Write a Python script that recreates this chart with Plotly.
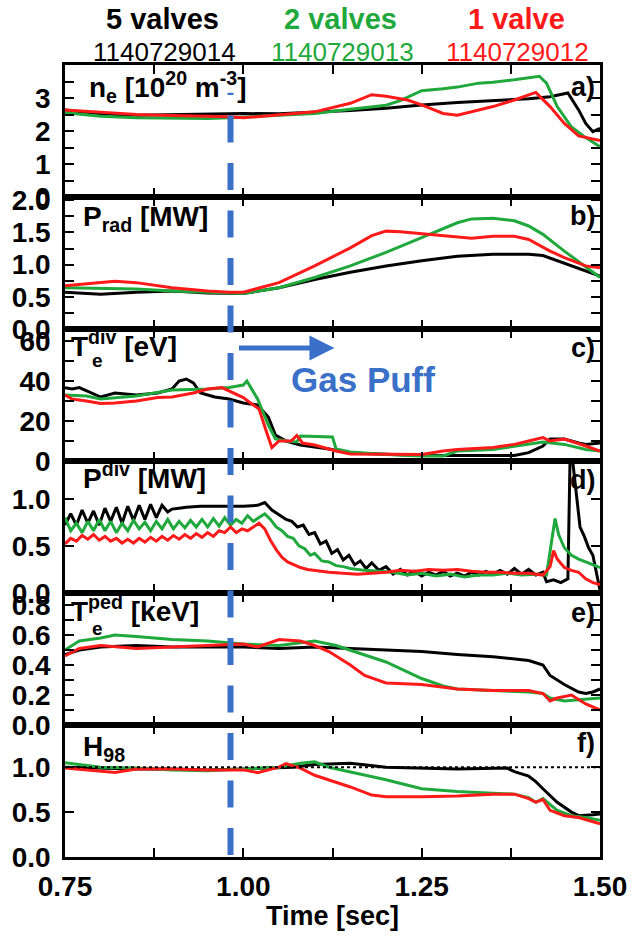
import plotly.graph_objects as go
from plotly.subplots import make_subplots

# ---------------- data ----------------
shots = ["1140729014", "1140729013", "1140729012"]
labels = ["5 valves", "2 valves", "1 valve"]
colors = ["#000000", "#1fa83c", "#ff1a1a"]

# a) n_e
ta_k = [0.75,0.78,0.80,0.85,0.90,0.95,1.00,1.05,1.10,1.15,1.20,1.25,1.30,1.35,1.40,1.43,1.455,1.47,1.48,1.49,1.50]
ne_k = [2.64,2.58,2.52,2.48,2.50,2.50,2.53,2.52,2.56,2.62,2.69,2.79,2.86,2.92,2.98,3.04,3.15,2.64,2.23,1.98,2.08]
ta_g = [0.75,0.80,0.85,0.90,0.95,1.00,1.05,1.10,1.15,1.20,1.22,1.25,1.28,1.30,1.33,1.35,1.38,1.40,1.415,1.425,1.44,1.46,1.48,1.50]
ne_g = [2.55,2.45,2.40,2.38,2.38,2.42,2.48,2.53,2.66,2.78,2.92,3.22,3.28,3.33,3.45,3.48,3.55,3.62,3.66,3.45,2.74,2.12,1.80,1.52]
ta_r = [0.75,0.80,0.85,0.90,0.95,0.98,1.00,1.05,1.10,1.15,1.18,1.20,1.23,1.25,1.28,1.30,1.32,1.35,1.38,1.41,1.43,1.45,1.47,1.50]
ne_r = [2.64,2.56,2.50,2.47,2.45,2.43,2.40,2.48,2.58,2.84,3.10,3.05,2.94,2.79,2.53,2.48,2.58,2.74,2.94,3.17,2.74,2.23,1.85,1.71]

# b) P_rad
tb_k = [0.75,0.80,0.85,0.90,0.95,1.00,1.05,1.10,1.15,1.20,1.25,1.30,1.35,1.40,1.42,1.45,1.50]
prad_k = [0.57,0.54,0.57,0.59,0.56,0.55,0.64,0.77,0.88,0.98,1.06,1.13,1.16,1.16,1.14,1.02,0.82]
tb_g = [0.75,0.80,0.85,0.90,0.95,1.00,1.05,1.10,1.15,1.20,1.25,1.30,1.32,1.35,1.38,1.40,1.42,1.45,1.50]
prad_g = [0.64,0.63,0.62,0.59,0.57,0.55,0.64,0.80,0.98,1.19,1.42,1.65,1.71,1.72,1.68,1.60,1.47,1.21,0.80]
tb_r = [0.75,0.80,0.82,0.85,0.90,0.95,0.98,1.00,1.05,1.10,1.15,1.18,1.20,1.22,1.25,1.28,1.30,1.32,1.35,1.38,1.40,1.43,1.45,1.48,1.50]
prad_r = [0.67,0.72,0.74,0.72,0.64,0.59,0.57,0.57,0.72,0.98,1.26,1.45,1.52,1.51,1.48,1.46,1.43,1.41,1.44,1.44,1.39,1.21,1.11,0.98,0.95]

# c) T_e^div
tc_k = [0.75,0.76,0.77,0.78,0.80,0.82,0.85,0.88,0.90,0.91,0.92,0.93,0.94,0.96,0.98,1.00,1.02,1.035,1.045,1.06,1.08,1.10,1.12,1.15,1.20,1.25,1.30,1.35,1.38,1.40,1.42,1.43,1.45,1.47,1.48,1.50]
te_k = [36.7,36,36.7,35,32,34,33,34,36,40,41,39,34,32,31,29,28,22,13,10,8,7,6,4,3.3,2.8,2.8,2.8,2.8,4.2,7.5,11,11,9,8.3,9]
tc_g = [0.75,0.78,0.80,0.85,0.90,0.95,0.98,1.00,1.005,1.02,1.035,1.045,1.06,1.075,1.08,1.125,1.13,1.15,1.20,1.25,1.28,1.30,1.35,1.38,1.40,1.42,1.45,1.48,1.50]
te_g = [33,32.5,31,32.5,35.5,36,36.7,38,40,31,18,11,10,9.5,12.5,12,6,4.5,3.3,2.5,2.5,5,5.8,7.5,8.3,9.5,8.3,5.8,5]
tc_r = [0.75,0.76,0.78,0.80,0.82,0.85,0.88,0.90,0.93,0.95,0.97,0.98,1.00,1.01,1.022,1.033,1.04,1.05,1.067,1.075,1.083,1.10,1.13,1.15,1.20,1.25,1.28,1.30,1.35,1.38,1.40,1.42,1.43,1.45,1.48,1.50]
te_r = [33,31,30,28.7,29,30,31.7,32,34,36,36.7,35,31.7,29,26,14,6.7,10,10,12.8,9,8,5,3.5,3.3,3.3,5,5.8,6.7,8.3,10,11.7,10,11,7.5,5]

# d) P^div
td_k = [0.750,0.758,0.766,0.774,0.782,0.790,0.798,0.806,0.814,0.822,0.830,0.838,0.846,0.854,0.862,0.870,0.878,0.886,0.894,
        0.90,0.91,0.92,0.94,0.96,0.98,1.00,1.02,1.03,1.04,1.05,1.06,
        1.068,1.076,1.084,1.092,1.100,1.108,1.116,1.124,1.132,1.140,1.148,1.156,1.164,1.172,1.180,1.190,1.200,1.21,1.22,
        1.23,1.24,1.25,1.26,1.27,1.28,1.29,1.30,1.31,1.32,1.33,1.34,1.35,1.36,1.37,1.38,1.39,1.40,1.41,1.42,
        1.425,1.435,1.445,1.455,1.458,1.462,1.468,1.472,1.478,1.484,1.49,1.495,1.50]
pd_k = [0.72,0.84,0.72,0.88,0.74,0.87,0.72,0.90,0.76,0.91,0.74,0.92,0.77,0.93,0.78,0.94,0.80,0.93,0.86,
        0.89,0.90,0.91,0.92,0.92,0.92,0.92,0.93,0.96,0.88,0.83,0.78,
        0.76,0.70,0.72,0.62,0.64,0.52,0.55,0.42,0.46,0.35,0.40,0.30,0.34,0.26,0.32,0.24,0.28,0.20,0.25,
        0.19,0.23,0.18,0.22,0.19,0.23,0.18,0.21,0.18,0.22,0.19,0.23,0.20,0.24,0.20,0.26,0.20,0.25,0.19,0.22,
        0.12,0.14,0.11,0.15,1.42,1.38,1.00,0.70,0.60,0.48,0.40,0.20,0.03]
td_g = [0.750,0.758,0.766,0.774,0.782,0.790,0.798,0.806,0.814,0.822,0.830,0.838,0.846,0.854,0.862,0.870,0.878,0.886,0.894,0.902,
        0.910,0.918,0.926,0.934,0.942,0.950,0.958,0.966,0.974,0.982,0.990,0.998,1.006,1.014,1.022,1.030,1.038,1.046,1.054,1.062,
        1.070,1.078,1.086,1.094,1.10,1.11,1.12,1.13,1.14,1.15,1.17,1.19,1.21,1.23,1.25,1.27,1.29,1.31,1.33,1.35,1.37,1.39,1.41,
        1.425,1.432,1.437,1.442,1.45,1.46,1.47,1.48,1.49,1.50]
pd_g = [0.80,0.66,0.74,0.64,0.76,0.66,0.78,0.66,0.76,0.64,0.74,0.66,0.77,0.68,0.75,0.66,0.76,0.68,0.78,0.68,
        0.76,0.69,0.77,0.70,0.78,0.70,0.79,0.71,0.80,0.72,0.78,0.74,0.82,0.76,0.80,0.84,0.78,0.70,0.66,0.60,
        0.58,0.50,0.47,0.40,0.42,0.34,0.33,0.29,0.28,0.26,0.24,0.23,0.22,0.19,0.21,0.18,0.20,0.17,0.19,0.19,0.21,0.19,0.20,
        0.19,0.55,0.79,0.62,0.48,0.40,0.36,0.33,0.30,0.27]
td_r = [0.750,0.758,0.766,0.774,0.782,0.790,0.798,0.806,0.814,0.822,0.830,0.838,0.846,0.854,0.862,0.870,0.878,0.886,0.894,0.902,
        0.910,0.918,0.926,0.934,0.942,0.950,0.958,0.966,0.974,0.982,0.990,0.998,1.006,1.014,1.022,1.030,1.038,1.046,1.054,1.062,
        1.07,1.08,1.09,1.10,1.12,1.14,1.16,1.18,1.20,1.22,1.24,1.26,1.28,1.30,1.32,1.34,1.36,1.38,1.40,1.42,
        1.43,1.435,1.44,1.45,1.46,1.47,1.48,1.49,1.50]
pd_r = [0.52,0.58,0.55,0.61,0.57,0.62,0.56,0.60,0.55,0.58,0.53,0.57,0.53,0.58,0.54,0.59,0.55,0.60,0.56,0.61,
        0.57,0.62,0.58,0.63,0.59,0.64,0.60,0.66,0.64,0.70,0.64,0.68,0.66,0.70,0.74,0.68,0.56,0.46,0.38,0.33,
        0.30,0.27,0.25,0.24,0.22,0.21,0.20,0.21,0.22,0.24,0.23,0.25,0.24,0.25,0.23,0.22,0.22,0.21,0.21,0.19,
        0.28,0.45,0.36,0.27,0.24,0.22,0.15,0.11,0.09]

# e) T_e^ped
te_t_k = [0.75,0.77,0.80,0.85,0.90,0.95,1.00,1.05,1.10,1.15,1.20,1.25,1.30,1.35,1.40,1.42,1.43,1.45,1.47,1.48,1.49,1.50]
tped_k = [0.47,0.50,0.52,0.53,0.52,0.52,0.52,0.51,0.52,0.51,0.50,0.49,0.47,0.455,0.43,0.40,0.33,0.27,0.22,0.21,0.22,0.24]
te_t_g = [0.75,0.77,0.80,0.82,0.85,0.90,0.95,1.00,1.05,1.10,1.13,1.15,1.20,1.25,1.28,1.30,1.35,1.40,1.42,1.43,1.45,1.50]
tped_g = [0.50,0.56,0.58,0.60,0.59,0.57,0.56,0.54,0.53,0.56,0.53,0.50,0.42,0.31,0.26,0.24,0.23,0.22,0.21,0.18,0.16,0.18]
te_t_r = [0.75,0.77,0.80,0.85,0.90,0.95,1.00,1.02,1.05,1.08,1.10,1.12,1.15,1.17,1.20,1.25,1.30,1.35,1.40,1.42,1.43,1.44,1.46,1.48,1.50]
tped_r = [0.46,0.51,0.53,0.51,0.52,0.53,0.54,0.52,0.57,0.56,0.53,0.49,0.40,0.33,0.28,0.27,0.24,0.23,0.23,0.21,0.16,0.18,0.20,0.14,0.10]

# f) H98
tf_k = [0.75,0.80,0.85,0.90,0.95,1.00,1.05,1.07,1.10,1.15,1.20,1.25,1.30,1.37,1.38,1.40,1.41,1.42,1.44,1.46,1.47,1.49,1.50]
h98_k = [1.0,0.99,0.98,0.98,0.97,0.98,0.99,1.0,1.03,1.045,1.0,0.99,0.98,0.99,0.95,0.90,0.84,0.76,0.61,0.50,0.46,0.47,0.48]
tf_g = [0.75,0.80,0.85,0.90,0.95,1.00,1.05,1.08,1.10,1.12,1.15,1.20,1.25,1.30,1.35,1.38,1.40,1.41,1.42,1.44,1.46,1.48,1.50]
h98_g = [1.05,1.0,0.99,0.97,0.96,0.98,1.0,1.045,1.06,1.0,0.95,0.86,0.76,0.73,0.71,0.70,0.66,0.61,0.65,0.52,0.46,0.44,0.41]
tf_r = [0.75,0.80,0.82,0.85,0.90,0.95,1.00,1.02,1.05,1.06,1.08,1.10,1.15,1.18,1.20,1.25,1.30,1.35,1.38,1.40,1.41,1.42,1.43,1.45,1.47,1.50]
h98_r = [0.99,0.96,0.94,0.98,0.98,0.97,0.97,0.94,1.0,1.04,0.99,0.91,0.78,0.69,0.67,0.67,0.68,0.70,0.70,0.65,0.61,0.64,0.52,0.46,0.44,0.37]

panels = [
    [(ta_k, ne_k), (ta_g, ne_g), (ta_r, ne_r)],
    [(tb_k, prad_k), (tb_g, prad_g), (tb_r, prad_r)],
    [(tc_k, te_k), (tc_g, te_g), (tc_r, te_r)],
    [(td_k, pd_k), (td_g, pd_g), (td_r, pd_r)],
    [(te_t_k, tped_k), (te_t_g, tped_g), (te_t_r, tped_r)],
    [(tf_k, h98_k), (tf_g, h98_g), (tf_r, h98_r)],
]
y_ranges = [[0, 4.0], [0, 2.05], [0, 66], [0, 1.40], [0, 0.88], [0, 1.47]]
y_ticks = [[0, 1, 2, 3], [0, 0.5, 1.0, 1.5, 2.0], [0, 20, 40, 60], [0, 0.5, 1.0],
           [0, 0.2, 0.4, 0.6, 0.8], [0, 0.5, 1.0]]
y_ticktext = [["0", "1", "2", "3"], ["0.0", "0.5", "1.0", "1.5", "2.0"], ["0", "20", "40", "60"],
              ["0.0", "0.5", "1.0"], ["0.0", "0.2", "0.4", "0.6", "0.8"], ["0.0", "0.5", "1.0"]]
y_minor = [[0.5, 1.5, 2.5, 3.5], [0.25, 0.75, 1.25, 1.75], [10, 30, 50], [], [0.1, 0.3, 0.5, 0.7], []]
x_ticks = [0.75, 1.0, 1.25, 1.5]
x_ticktext = ["0.75", "1.00", "1.25", "1.50"]
x_minor = [0.875, 1.125, 1.375]
puff_time = 0.982

# ---------------- figure ----------------
FONT = "Liberation Sans, Arial, sans-serif"
BLUE = "#3a70c8"
fig = make_subplots(rows=6, cols=1, shared_xaxes=True, vertical_spacing=0)

for i, panel in enumerate(panels):
    for j, (t, v) in enumerate(panel):
        fig.add_trace(go.Scatter(x=t, y=v, mode="lines", line=dict(color=colors[j], width=3),
                                 showlegend=False), row=i + 1, col=1)

tickfont = dict(family=FONT, size=28, color="black", weight="bold")
minor_style = dict(ticks="inside", ticklen=9, tickwidth=2, tickcolor="black", showgrid=False)
fig.update_xaxes(range=[0.75, 1.5], showline=True, mirror="ticks", linecolor="black", linewidth=2.5,
                 ticks="inside", ticklen=9, tickwidth=2, tickcolor="black", tickvals=x_ticks,
                 ticktext=x_ticktext, showgrid=False, zeroline=False, tickfont=tickfont,
                 ticklabelstandoff=3, minor=dict(tickvals=x_minor, **minor_style))
for i in range(6):
    fig.update_yaxes(range=y_ranges[i], tickvals=y_ticks[i], ticktext=y_ticktext[i], showline=True,
                     mirror="ticks", linecolor="black", linewidth=2.5, ticks="inside", ticklen=9,
                     tickwidth=2, tickcolor="black", showgrid=False, zeroline=False,
                     tickfont=tickfont, ticklabelstandoff=6,
                     minor=dict(tickvals=y_minor[i], **minor_style) if y_minor[i] else None,
                     row=i + 1, col=1)

# dotted reference line in H98 panel
fig.add_shape(type="line", xref="x6", yref="y6", x0=0.75, x1=1.5, y0=1.0, y1=1.0,
              line=dict(color="black", width=2, dash="dot"))
# gas puff dashed line
fig.add_shape(type="line", xref="x", yref="paper", x0=puff_time, x1=puff_time, y0=0.0025, y1=0.965,
              line=dict(color=BLUE, width=6, dash="27px,20.5px"))

W, H = 639, 939
L, R, T, B = 63, 30, 65, 82
pw, ph = W - L - R, H - T - B


def px(x):
    return (x - L) / pw


def py(y):
    return (H - B - y) / ph


ann = []
# header
for k in range(3):
    ann.append(dict(x=px([163, 344, 524][k]), y=py(19), text=labels[k],
                    font=dict(size=29, color=colors[k], weight="bold")))
    ann.append(dict(x=px([165, 346, 525][k]), y=py(52), text=shots[k],
                    font=dict(size=26, color=colors[k])))

# panel labels (text, left x, center y)
plabels = [
    ("n<sub>e</sub> [10<sup>20</sup> m<sup>-3</sup>]", 85, 87),
    ("P<sub>rad</sub> [MW]", 79, 218),
    ("T<sup>div</sup> [eV]", 67, 344),
    ("P<sup>div</sup> [MW]", 79, 476),
    ("T<sup>ped</sup> [keV]", 67, 609),
    ("H<sub>98</sub>", 79, 748),
]
for text, xx, yy in plabels:
    ann.append(dict(x=px(xx), y=py(yy), text=text, xanchor="left",
                    font=dict(size=28, color="black", weight="bold")))
# stacked subscripts e
for yy in [360, 628]:
    ann.append(dict(x=px(89), y=py(yy), text="e", xanchor="left",
                    font=dict(size=19, color="black", weight="bold")))
letters = ["a)", "b)", "c)", "d)", "e)", "f)"]
for k, yy in enumerate([87, 216, 348, 480, 613, 743]):
    ann.append(dict(x=px(606), y=py(yy), text=letters[k], xanchor="right",
                    font=dict(size=27, color="black", weight="bold")))

# gas puff
ann.append(dict(x=px(292), y=py(379), text="Gas Puff", xanchor="left",
                font=dict(size=35, color=BLUE, weight="bold")))
ann.append(dict(x=px(338), y=py(348), ax=-97, ay=0, axref="pixel", ayref="pixel",
                text="", showarrow=True, arrowhead=2, arrowsize=1.0, arrowwidth=5, arrowcolor=BLUE))
# x title
ann.append(dict(x=px(336), y=py(916), text="Time [sec]", font=dict(size=27, color="black", weight="bold")))

for a in ann:
    a.setdefault("xref", "paper")
    a.setdefault("yref", "paper")
    a.setdefault("showarrow", False)
    a.setdefault("xanchor", "center")
    a.setdefault("yanchor", "middle")
    f = a.setdefault("font", {})
    f.setdefault("family", FONT)
    fig.add_annotation(**a)

fig.update_layout(width=W, height=H, margin=dict(l=L, r=R, t=T, b=B), plot_bgcolor="white",
                  paper_bgcolor="white", showlegend=False, font=dict(family=FONT))

fig.write_html("out.html")
